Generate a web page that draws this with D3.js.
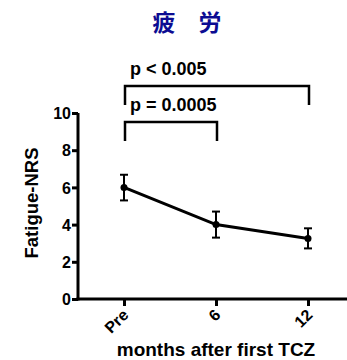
<!DOCTYPE html>
<html>
<head>
<meta charset="utf-8">
<script src="https://cdn.jsdelivr.net/npm/d3@7"></script>
<style>
  body { margin: 0; background: #fff; }
  text { font-family: Arial, "Liberation Sans", sans-serif; font-weight: bold; }
</style>
</head>
<body>
<script>
// data
var months = ['Pre', '6', '12']
var means = [6.0, 4.0, 3.25]
var errLow = [5.3, 3.3, 2.72]
var errHigh = [6.68, 4.7, 3.8]
var yTicks = [0, 2, 4, 6, 8, 10]

var comparisons = [
  { from: 'Pre', to: '12', label: 'p < 0.005', level: 0 },
  { from: 'Pre', to: '6', label: 'p = 0.0005', level: 1 }
]

var svg = d3.select('body').append('svg')
  .attr('width', 347)
  .attr('height', 360)

var x = d3.scalePoint()
  .domain(months)
  .range([124, 308])

var y = d3.scaleLinear()
  .domain([0, 10])
  .range([299, 113])

// title
svg.append('text')
  .attr('x', 187)
  .attr('y', 31)
  .attr('text-anchor', 'middle')
  .style('font-family', '"Noto Sans CJK JP", sans-serif')
  .style('font-size', '23px')
  .style('fill', '#0c0c92')
  .text('疲　労')

// axes
var yAxis = svg.append('g')
  .attr('transform', 'translate(78,0)')
  .call(d3.axisLeft(y).tickValues(yTicks).tickSize(6).tickPadding(1).tickFormat(d3.format('d')))
yAxis.select('.domain').attr('d', 'M0,' + y(10) + 'V' + (y(0) + 1.5))

var xAxis = svg.append('g')
  .attr('transform', 'translate(0,299)')
  .call(d3.axisBottom(x).tickSize(7))
xAxis.select('.domain').attr('d', 'M76.5,0H347')
xAxis.selectAll('.tick text')
  .attr('x', 0)
  .attr('y', 0)
  .attr('text-anchor', 'end')
  .attr('dy', '0.35em')
  .attr('transform', 'translate(1,13) rotate(-45)')

svg.selectAll('.domain, .tick line')
  .style('stroke', '#000')
  .style('stroke-width', 3)
svg.selectAll('.tick text')
  .style('font-size', '16px')
  .style('fill', '#000')
yAxis.selectAll('.tick text').attr('dy', '0.36em')

// axis titles
svg.append('text')
  .attr('transform', 'translate(38,203) rotate(-90)')
  .attr('text-anchor', 'middle')
  .style('font-size', '18.5px')
  .text('Fatigue-NRS')

svg.append('text')
  .attr('x', 216)
  .attr('y', 356)
  .attr('text-anchor', 'middle')
  .style('font-size', '19px')
  .text('months after first TCZ')

// error bars
var errs = svg.append('g')
  .selectAll('g')
  .data(months)
  .enter()
  .append('g')
  .style('stroke', '#000')
  .style('stroke-width', 2)

errs.append('line')
  .attr('x1', function(d) { return x(d) })
  .attr('x2', function(d) { return x(d) })
  .attr('y1', function(d, i) { return y(errLow[i]) })
  .attr('y2', function(d, i) { return y(errHigh[i]) })
errs.append('line')
  .attr('x1', function(d) { return x(d) - 4 })
  .attr('x2', function(d) { return x(d) + 4 })
  .attr('y1', function(d, i) { return y(errLow[i]) })
  .attr('y2', function(d, i) { return y(errLow[i]) })
errs.append('line')
  .attr('x1', function(d) { return x(d) - 4 })
  .attr('x2', function(d) { return x(d) + 4 })
  .attr('y1', function(d, i) { return y(errHigh[i]) })
  .attr('y2', function(d, i) { return y(errHigh[i]) })

// mean line
var line = d3.line()
  .x(function(d, i) { return x(months[i]) })
  .y(function(d) { return y(d) })

svg.append('path')
  .datum(means)
  .attr('d', line)
  .style('fill', 'none')
  .style('stroke', '#000')
  .style('stroke-width', 3)

svg.selectAll('.dot')
  .data(means)
  .enter()
  .append('circle')
  .attr('class', 'dot')
  .attr('cx', function(d, i) { return x(months[i]) })
  .attr('cy', function(d) { return y(d) })
  .attr('r', 3.5)
  .style('fill', '#000')

// significance brackets
var brackets = svg.selectAll('.bracket')
  .data(comparisons)
  .enter()
  .append('g')
  .attr('class', 'bracket')

var bracketTop = [86, 122]
var bracketLeg = 19

brackets.append('path')
  .attr('d', function(d) {
    var t = bracketTop[d.level]
    return 'M' + (x(d.from) + 1) + ',' + (t + bracketLeg) + 'V' + t +
      'H' + (x(d.to) + 1) + 'V' + (t + bracketLeg)
  })
  .style('fill', 'none')
  .style('stroke', '#000')
  .style('stroke-width', 2.5)

brackets.append('text')
  .attr('x', function(d) { return x(d.from) + 6 })
  .attr('y', function(d) { return bracketTop[d.level] - 11 })
  .style('font-size', '18px')
  .text(function(d) { return d.label })
</script>
</body>
</html>
